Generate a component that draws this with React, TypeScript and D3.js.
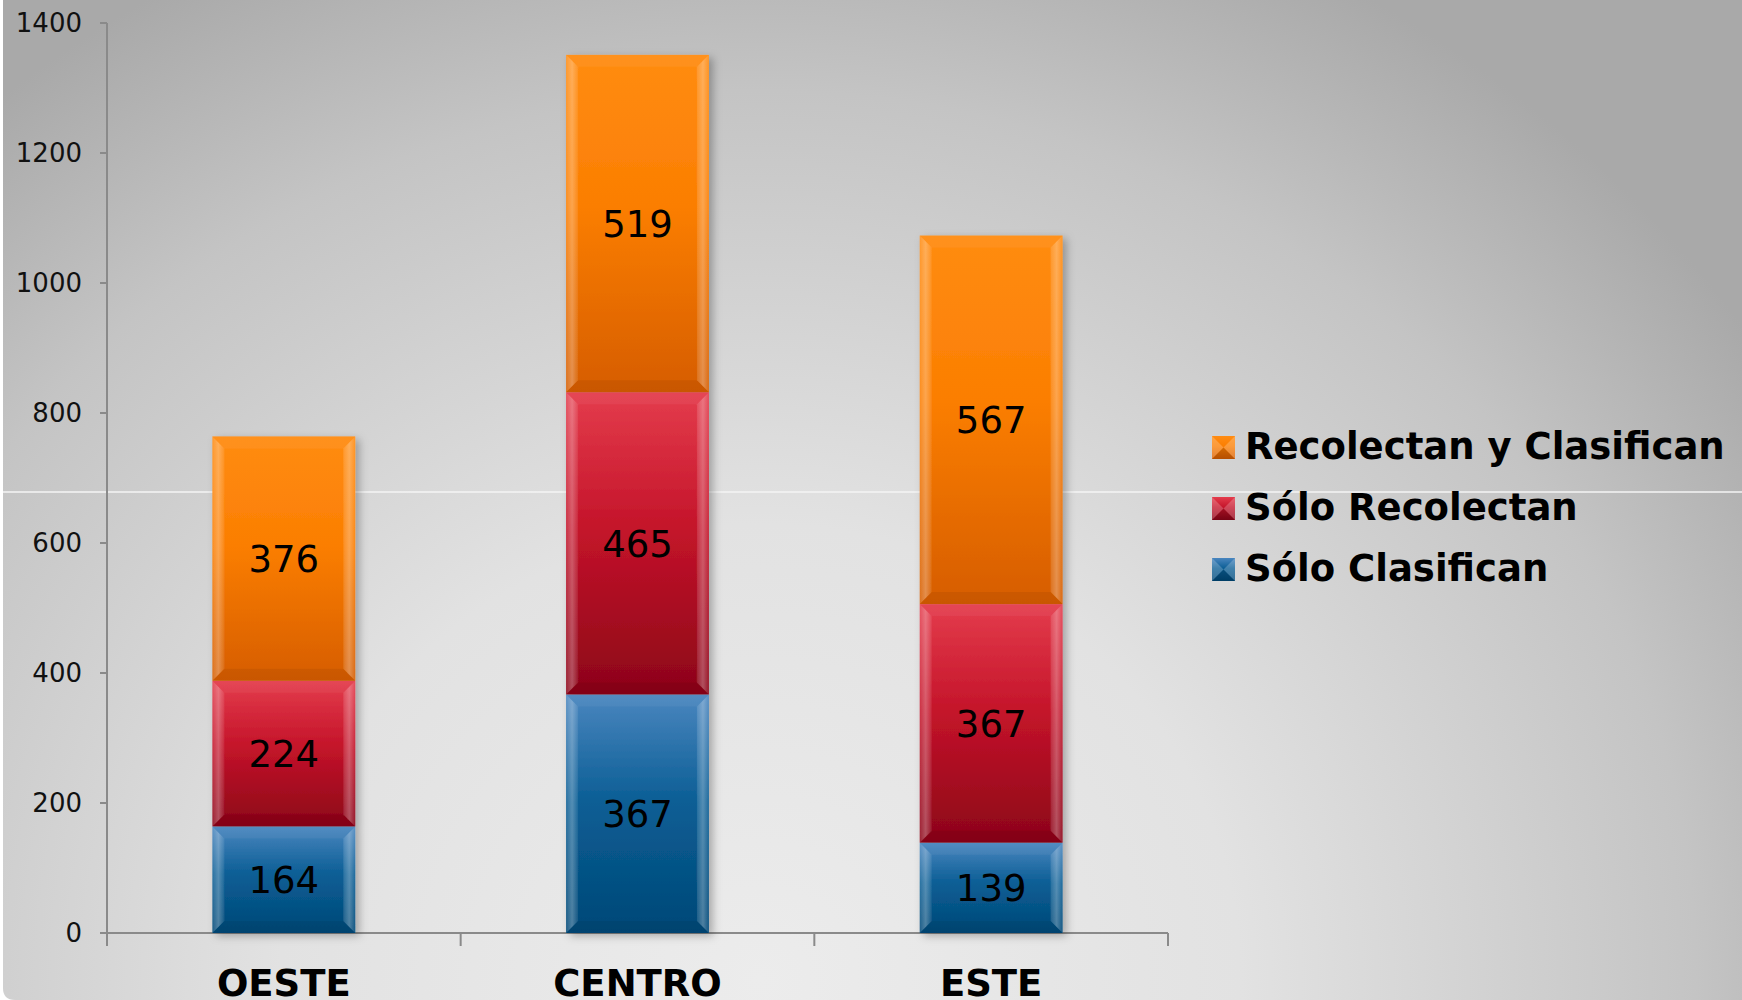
import React from 'react';
import * as d3 from 'd3';

const categories = ['OESTE', 'CENTRO', 'ESTE'];
const seriesNames = ['Sólo Clasifican', 'Sólo Recolectan', 'Recolectan y Clasifican'];
const soloClasifican = [164, 367, 139];
const soloRecolectan = [224, 465, 367];
const recolectanYClasifican = [376, 519, 567];
const yTicks = [0, 200, 400, 600, 800, 1000, 1200, 1400];

// top, middle, bottom colours for each series
const seriesColors = [
    ['#4a86bf', '#0b5e95', '#004877'],
    ['#e43c4c', '#c4142a', '#8c0418'],
    ['#ff8c12', '#fb7e02', '#d65d00'],
];

const W = 1742;
const H = 1000;

const App = () => {
    const svgRef = React.useRef(null);

    React.useEffect(() => {
        document.body.style.margin = '0';
        const svg = d3.select(svgRef.current);
        svg.selectAll('*').remove();

        const left = 107, right = 1168, top = 23, bottom = 933;
        const font = 'Verdana, "DejaVu Sans", sans-serif';

        const x = d3.scaleBand()
            .domain(categories)
            .range([left, right])
            .paddingInner(0.596)
            .paddingOuter(0.298);

        const y = d3.scaleLinear()
            .domain([0, 1400])
            .range([bottom, top]);

        const rows = categories.map((c, i) => ({
            cat: c,
            v0: soloClasifican[i],
            v1: soloRecolectan[i],
            v2: recolectanYClasifican[i],
        }));
        const stack = d3.stack().keys(['v0', 'v1', 'v2'])(rows);

        const defs = svg.append('defs');

        const bg = defs.append('radialGradient')
            .attr('id', 'bg')
            .attr('gradientUnits', 'userSpaceOnUse')
            .attr('cx', 760).attr('cy', 980).attr('r', 1200)
            .attr('gradientTransform', 'translate(760,980) scale(1,0.95) translate(-760,-980)');
        bg.append('stop').attr('offset', 0).attr('stop-color', '#ececec');
        bg.append('stop').attr('offset', 0.4).attr('stop-color', '#e2e2e2');
        bg.append('stop').attr('offset', 0.78).attr('stop-color', '#c4c4c4');
        bg.append('stop').attr('offset', 1).attr('stop-color', '#a9a9a9');

        seriesColors.forEach((cols, i) => {
            const g = defs.append('linearGradient')
                .attr('id', 'grad' + i)
                .attr('x1', 0).attr('y1', 0).attr('x2', 0).attr('y2', 1);
            g.append('stop').attr('offset', 0).attr('stop-color', cols[0]);
            g.append('stop').attr('offset', 0.45).attr('stop-color', cols[1]);
            g.append('stop').attr('offset', 1).attr('stop-color', cols[2]);
        });

        const side = defs.append('linearGradient')
            .attr('id', 'side')
            .attr('x1', 0).attr('y1', 0).attr('x2', 1).attr('y2', 0);
        side.append('stop').attr('offset', 0).attr('stop-color', '#fff').attr('stop-opacity', 0.12);
        side.append('stop').attr('offset', 0.5).attr('stop-color', '#fff').attr('stop-opacity', 0.3);
        side.append('stop').attr('offset', 1).attr('stop-color', '#fff').attr('stop-opacity', 0.08);

        const shadow = defs.append('filter')
            .attr('id', 'shadow')
            .attr('x', '-20%').attr('y', '-10%').attr('width', '140%').attr('height', '120%');
        shadow.append('feDropShadow')
            .attr('dx', 4).attr('dy', 3)
            .attr('stdDeviation', 4)
            .attr('flood-color', '#000')
            .attr('flood-opacity', 0.28);

        // background, rounded only at the bottom-left corner
        svg.append('rect')
            .attr('width', W).attr('height', H)
            .attr('fill', '#fff');
        const r = 12;
        svg.append('path')
            .attr('d', `M3,0 L${W},0 L${W},${H} L${3 + r},${H} Q3,${H} 3,${H - r} Z`)
            .attr('fill', 'url(#bg)');

        // odd thin white line
        svg.append('line')
            .attr('x1', 3).attr('x2', W)
            .attr('y1', 492).attr('y2', 492)
            .attr('stroke', '#f4f4f4')
            .attr('stroke-width', 1.5);

        // Y axis
        const yAxis = svg.append('g');
        yAxis.append('line')
            .attr('x1', left).attr('x2', left)
            .attr('y1', top).attr('y2', bottom)
            .attr('stroke', '#8a8a8a').attr('stroke-width', 2);
        yAxis.selectAll('.tick')
            .data(yTicks)
            .enter()
                .append('line')
                .attr('x1', left - 7).attr('x2', left)
                .attr('y1', (d) => y(d)).attr('y2', (d) => y(d))
                .attr('stroke', '#8a8a8a').attr('stroke-width', 2);
        yAxis.selectAll('text')
            .data(yTicks)
            .enter()
                .append('text')
                .attr('x', 82)
                .attr('y', (d) => y(d))
                .attr('dy', '0.36em')
                .attr('text-anchor', 'end')
                .style('font-family', font)
                .style('font-size', '26px')
                .attr('fill', '#111')
                .text((d) => d);

        // X axis
        const xAxis = svg.append('g');
        xAxis.append('line')
            .attr('x1', left - 7).attr('x2', right)
            .attr('y1', bottom).attr('y2', bottom)
            .attr('stroke', '#8a8a8a').attr('stroke-width', 2);
        const step = x.step();
        const bounds = [0, 1, 2, 3].map((i) => left + i * step);
        xAxis.selectAll('.ctick')
            .data(bounds)
            .enter()
                .append('line')
                .attr('x1', (d) => d).attr('x2', (d) => d)
                .attr('y1', bottom).attr('y2', bottom + 13)
                .attr('stroke', '#8a8a8a').attr('stroke-width', 2);
        xAxis.selectAll('text')
            .data(categories)
            .enter()
                .append('text')
                .attr('x', (d) => x(d) + x.bandwidth() / 2)
                .attr('y', 996)
                .attr('text-anchor', 'middle')
                .style('font-family', font)
                .style('font-size', '37px')
                .style('font-weight', 'bold')
                .attr('fill', '#000')
                .text((d) => d);

        // bars
        const b = 12;
        const bars = svg.append('g');
        categories.forEach((cat, ci) => {
            const g = bars.append('g').attr('filter', 'url(#shadow)');
            const x0 = x(cat), x1 = x0 + x.bandwidth();
            stack.forEach((layer, si) => {
                const d = layer[ci];
                const y0 = y(d[1]), y1 = y(d[0]);
                const seg = g.append('g');
                seg.append('rect')
                    .attr('x', x0).attr('y', y0)
                    .attr('width', x1 - x0).attr('height', y1 - y0)
                    .attr('fill', `url(#grad${si})`);
                // bevel: left, right, top, bottom
                seg.append('polygon')
                    .attr('points', [[x0, y0], [x0 + b, y0 + b], [x0 + b, y1 - b], [x0, y1]].join(' '))
                    .attr('fill', 'url(#side)');
                seg.append('polygon')
                    .attr('points', [[x1, y0], [x1 - b, y0 + b], [x1 - b, y1 - b], [x1, y1]].join(' '))
                    .attr('fill', 'url(#side)');
                seg.append('polygon')
                    .attr('points', [[x0, y0], [x1, y0], [x1 - b, y0 + b], [x0 + b, y0 + b]].join(' '))
                    .attr('fill', '#fff').attr('fill-opacity', 0.05);
                seg.append('polygon')
                    .attr('points', [[x0, y1], [x1, y1], [x1 - b, y1 - b], [x0 + b, y1 - b]].join(' '))
                    .attr('fill', '#000').attr('fill-opacity', 0.06);
            });
        });

        // data labels
        stack.forEach((layer) => {
            svg.append('g')
                .selectAll('text')
                .data(layer)
                .enter()
                    .append('text')
                    .attr('x', (d) => x(d.data.cat) + x.bandwidth() / 2)
                    .attr('y', (d) => (y(d[0]) + y(d[1])) / 2)
                    .attr('dy', '0.36em')
                    .attr('text-anchor', 'middle')
                    .style('font-family', font)
                    .style('font-size', '37px')
                    .attr('fill', '#000')
                    .text((d) => d[1] - d[0]);
        });

        // legend (reverse order, top series first)
        const legendX = 1212;
        const legendY = [459, 520, 581];
        const lg = svg.append('g');
        [2, 1, 0].forEach((si, row) => {
            const sy = legendY[row] - 23;
            const s = 23;
            lg.append('rect')
                .attr('x', legendX).attr('y', sy)
                .attr('width', s).attr('height', s)
                .attr('fill', `url(#grad${si})`);
            const cx = legendX + s / 2, cy = sy + s / 2;
            lg.append('polygon')
                .attr('points', [[legendX, sy], [cx, cy], [legendX, sy + s]].join(' '))
                .attr('fill', '#fff').attr('fill-opacity', 0.22);
            lg.append('polygon')
                .attr('points', [[legendX + s, sy], [cx, cy], [legendX + s, sy + s]].join(' '))
                .attr('fill', '#fff').attr('fill-opacity', 0.22);
            lg.append('polygon')
                .attr('points', [[legendX, sy + s], [cx, cy], [legendX + s, sy + s]].join(' '))
                .attr('fill', '#000').attr('fill-opacity', 0.15);
            lg.append('text')
                .attr('x', 1245)
                .attr('y', legendY[row])
                .style('font-family', font)
                .style('font-size', '37px')
                .style('font-weight', 'bold')
                .attr('fill', '#000')
                .text(seriesNames[si]);
        });
    }, []);

    return <svg ref={svgRef} width={W} height={H} style={{ display: 'block' }} />;
};

export default App;
